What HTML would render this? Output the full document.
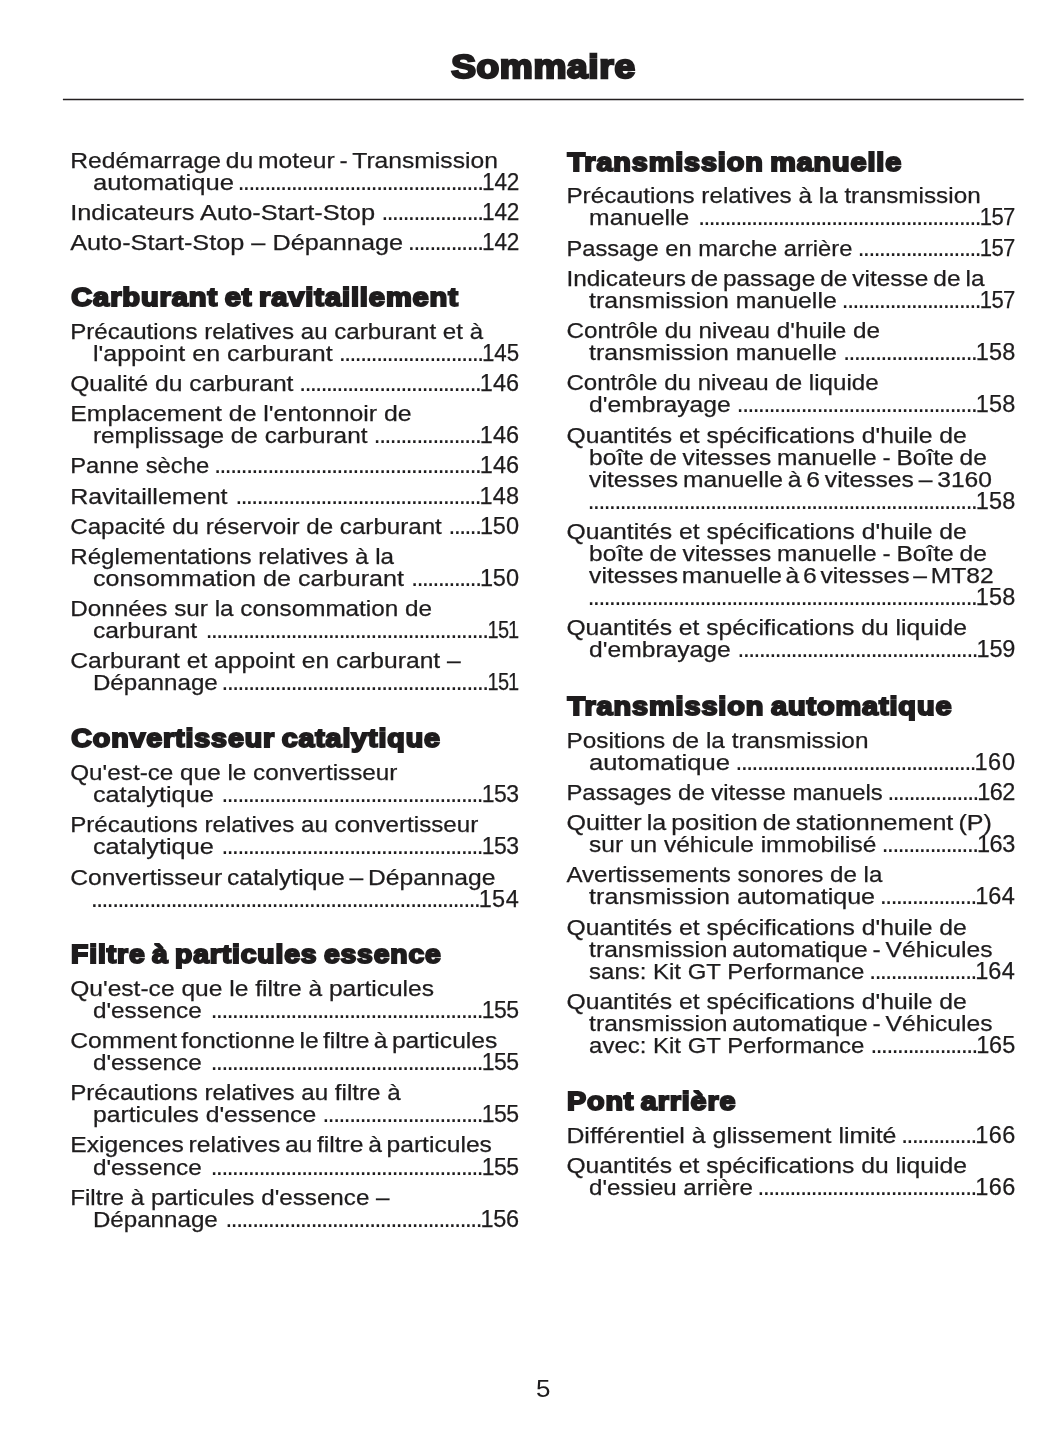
<!DOCTYPE html>
<html lang="fr">
<head>
<meta charset="utf-8">
<title>Sommaire</title>
<style>
html,body{margin:0;padding:0;background:#fff}
body{width:1055px;height:1448px;position:relative;overflow:hidden;font-family:"Liberation Sans",sans-serif;color:#1e1c1d}
.l{position:absolute;left:0;top:0;white-space:pre;transform-origin:0 0;line-height:30px;height:30px;margin:0;padding:0;font-weight:400}
.b{font-size:22.0px;word-spacing:0.0px;-webkit-text-stroke:0.25px #1e1c1d}
.n{font-size:23.5px;-webkit-text-stroke:0.25px #1e1c1d}
.d{font-size:26.0px;letter-spacing:-1.902px}
.h{font-size:25.5px;font-weight:700;word-spacing:-2.0px;letter-spacing:0.8px;-webkit-text-stroke:2.0px #1e1c1d}
.t{font-size:33.3px;font-weight:700;letter-spacing:0.6px;-webkit-text-stroke:2.4px #1e1c1d}
.p{font-size:24.0px}
.rule{position:absolute;left:0;top:0}
</style>
</head>
<body>
<svg class="rule" width="1055" height="120" viewBox="0 0 1055 120"><line x1="62.9" y1="99.45" x2="1023.7" y2="99.45" stroke="#231f20" stroke-width="1.35"/></svg>
<h1 class="l t" style="transform:translate(451.17px,52px) scaleX(1.1129)">Sommaire</h1>
<div class="l b" style="transform:translate(70.20px,146px) scaleX(1.1200);word-spacing:-1.75px">Redémarrage du moteur - Transmission</div>
<div class="l b" style="transform:translate(92.90px,168px) scaleX(1.1643)">automatique</div>
<span class="l d" style="transform:translate(237.54px,166px)">..............................................</span><span class="l n" style="transform:translate(482.08px,167px) scaleX(0.9613)"><span style="letter-spacing:-0.19px">1</span><span style="letter-spacing:-0.37px">4</span>2</span>
<div class="l b" style="transform:translate(70.20px,198px) scaleX(1.1540)">Indicateurs Auto-Start-Stop</div>
<span class="l d" style="transform:translate(381.23px,196px)">...................</span><span class="l n" style="transform:translate(482.08px,197px) scaleX(0.9613)"><span style="letter-spacing:-0.19px">1</span><span style="letter-spacing:-0.37px">4</span>2</span>
<div class="l b" style="transform:translate(70.20px,228px) scaleX(1.1484)">Auto-Start-Stop – Dépannage</div>
<span class="l d" style="transform:translate(407.84px,226px)">..............</span><span class="l n" style="transform:translate(482.08px,227px) scaleX(0.9613)"><span style="letter-spacing:-0.19px">1</span><span style="letter-spacing:-0.37px">4</span>2</span>
<h2 class="l h" style="transform:translate(71.25px,282px) scaleX(1.1376)">Carburant et ravitaillement</h2>
<div class="l b" style="transform:translate(70.20px,317px) scaleX(1.0961)">Précautions relatives au carburant et à</div>
<div class="l b" style="transform:translate(92.90px,339px) scaleX(1.1367)">l&#x27;appoint en carburant</div>
<span class="l d" style="transform:translate(338.66px,337px)">...........................</span><span class="l n" style="transform:translate(482.10px,338px) scaleX(0.9497)"><span style="letter-spacing:-0.19px">1</span><span style="letter-spacing:-0.13px">4</span>5</span>
<div class="l b" style="transform:translate(70.20px,369px) scaleX(1.1199)">Qualité du carburant</div>
<span class="l d" style="transform:translate(299.10px,367px)">..................................</span><span class="l n" style="transform:translate(479.71px,368px) scaleX(1.0000)"><span style="letter-spacing:0.20px">1</span><span style="letter-spacing:0.01px">4</span>6</span>
<div class="l b" style="transform:translate(70.20px,399px) scaleX(1.1281)">Emplacement de l&#x27;entonnoir de</div>
<div class="l b" style="transform:translate(92.90px,421px) scaleX(1.1059)">remplissage de carburant</div>
<span class="l d" style="transform:translate(373.61px,419px)">....................</span><span class="l n" style="transform:translate(479.71px,420px) scaleX(1.0000)"><span style="letter-spacing:0.20px">1</span><span style="letter-spacing:0.01px">4</span>6</span>
<div class="l b" style="transform:translate(70.20px,451px) scaleX(1.0824)">Panne sèche</div>
<span class="l d" style="transform:translate(213.95px,449px)">..................................................</span><span class="l n" style="transform:translate(479.71px,450px) scaleX(1.0000)"><span style="letter-spacing:0.20px">1</span><span style="letter-spacing:0.01px">4</span>6</span>
<div class="l b" style="transform:translate(70.20px,482px) scaleX(1.1387)">Ravitaillement</div>
<span class="l d" style="transform:translate(235.14px,480px)">..............................................</span><span class="l n" style="transform:translate(479.61px,481px) scaleX(1.0000)"><span style="letter-spacing:0.16px">1</span><span style="letter-spacing:0.14px">4</span>8</span>
<div class="l b" style="transform:translate(70.20px,512px) scaleX(1.0971)">Capacité du réservoir de carburant</div>
<span class="l d" style="transform:translate(448.32px,510px)">......</span><span class="l n" style="transform:translate(479.91px,511px) scaleX(1.0000)"><span style="letter-spacing:-0.14px">1</span><span style="letter-spacing:0.04px">5</span>0</span>
<div class="l b" style="transform:translate(70.20px,542px) scaleX(1.0985)">Réglementations relatives à la</div>
<div class="l b" style="transform:translate(92.90px,564px) scaleX(1.1406)">consommation de carburant</div>
<span class="l d" style="transform:translate(411.06px,562px)">.............</span><span class="l n" style="transform:translate(479.91px,563px) scaleX(1.0000)"><span style="letter-spacing:-0.14px">1</span><span style="letter-spacing:0.04px">5</span>0</span>
<div class="l b" style="transform:translate(70.20px,594px) scaleX(1.1041)">Données sur la consommation de</div>
<div class="l b" style="transform:translate(92.90px,616px) scaleX(1.1225)">carburant</div>
<span class="l d" style="transform:translate(205.38px,614px)">.....................................................</span><span class="l n" style="transform:translate(487.38px,615px) scaleX(0.8487)"><span style="letter-spacing:-0.59px">1</span><span style="letter-spacing:-1.28px">5</span>1</span>
<div class="l b" style="transform:translate(70.20px,646px) scaleX(1.1205)">Carburant et appoint en carburant –</div>
<div class="l b" style="transform:translate(92.90px,668px) scaleX(1.0972)">Dépannage</div>
<span class="l d" style="transform:translate(221.35px,666px)">..................................................</span><span class="l n" style="transform:translate(487.38px,667px) scaleX(0.8487)"><span style="letter-spacing:-0.59px">1</span><span style="letter-spacing:-1.28px">5</span>1</span>
<h2 class="l h" style="transform:translate(71.25px,723px) scaleX(1.1205)">Convertisseur catalytique</h2>
<div class="l b" style="transform:translate(70.20px,758px) scaleX(1.1039)">Qu&#x27;est-ce que le convertisseur</div>
<div class="l b" style="transform:translate(92.90px,780px) scaleX(1.1492)">catalytique</div>
<span class="l d" style="transform:translate(221.17px,778px)">.................................................</span><span class="l n" style="transform:translate(481.65px,779px) scaleX(0.9798)"><span style="letter-spacing:-0.59px">1</span><span style="letter-spacing:-0.38px">5</span>3</span>
<div class="l b" style="transform:translate(70.20px,810px) scaleX(1.0975)">Précautions relatives au convertisseur</div>
<div class="l b" style="transform:translate(92.90px,832px) scaleX(1.1492)">catalytique</div>
<span class="l d" style="transform:translate(221.17px,830px)">.................................................</span><span class="l n" style="transform:translate(481.65px,831px) scaleX(0.9798)"><span style="letter-spacing:-0.59px">1</span><span style="letter-spacing:-0.38px">5</span>3</span>
<div class="l b" style="transform:translate(70.20px,863px) scaleX(1.1200);word-spacing:-1.88px">Convertisseur catalytique – Dépannage</div>
<span class="l d" style="transform:translate(90.64px,883px)">.........................................................................</span><span class="l n" style="transform:translate(478.81px,884px) scaleX(1.0000)"><span style="letter-spacing:0.10px">1</span><span style="letter-spacing:0.67px">5</span>4</span>
<h2 class="l h" style="transform:translate(71.12px,939px) scaleX(1.1076)">Filtre à particules essence</h2>
<div class="l b" style="transform:translate(70.20px,974px) scaleX(1.1167)">Qu&#x27;est-ce que le filtre à particules</div>
<div class="l b" style="transform:translate(92.90px,996px) scaleX(1.1062)">d&#x27;essence</div>
<span class="l d" style="transform:translate(210.53px,994px)">...................................................</span><span class="l n" style="transform:translate(481.65px,995px) scaleX(0.9798)"><span style="letter-spacing:-0.59px">1</span><span style="letter-spacing:-0.43px">5</span>5</span>
<div class="l b" style="transform:translate(70.20px,1026px) scaleX(1.1200);word-spacing:-2.23px">Comment fonctionne le filtre à particules</div>
<div class="l b" style="transform:translate(92.90px,1048px) scaleX(1.1062)">d&#x27;essence</div>
<span class="l d" style="transform:translate(210.53px,1046px)">...................................................</span><span class="l n" style="transform:translate(481.65px,1047px) scaleX(0.9798)"><span style="letter-spacing:-0.59px">1</span><span style="letter-spacing:-0.43px">5</span>5</span>
<div class="l b" style="transform:translate(70.20px,1078px) scaleX(1.0985)">Précautions relatives au filtre à</div>
<div class="l b" style="transform:translate(92.90px,1100px) scaleX(1.1243)">particules d&#x27;essence</div>
<span class="l d" style="transform:translate(322.29px,1098px)">..............................</span><span class="l n" style="transform:translate(481.65px,1099px) scaleX(0.9798)"><span style="letter-spacing:-0.59px">1</span><span style="letter-spacing:-0.43px">5</span>5</span>
<div class="l b" style="transform:translate(70.20px,1130px) scaleX(1.1200);word-spacing:-1.97px">Exigences relatives au filtre à particules</div>
<div class="l b" style="transform:translate(92.90px,1153px) scaleX(1.1062)">d&#x27;essence</div>
<span class="l d" style="transform:translate(210.53px,1151px)">...................................................</span><span class="l n" style="transform:translate(481.65px,1152px) scaleX(0.9798)"><span style="letter-spacing:-0.59px">1</span><span style="letter-spacing:-0.43px">5</span>5</span>
<div class="l b" style="transform:translate(70.20px,1183px) scaleX(1.1000)">Filtre à particules d&#x27;essence –</div>
<div class="l b" style="transform:translate(92.90px,1205px) scaleX(1.0972)">Dépannage</div>
<span class="l d" style="transform:translate(225.29px,1203px)">................................................</span><span class="l n" style="transform:translate(480.41px,1204px) scaleX(1.0000)"><span style="letter-spacing:-0.20px">1</span><span style="letter-spacing:-0.29px">5</span>6</span>
<h2 class="l h" style="transform:translate(567.50px,147px) scaleX(1.1271)">Transmission manuelle</h2>
<div class="l b" style="transform:translate(566.40px,181px) scaleX(1.1035)">Précautions relatives à la transmission</div>
<div class="l b" style="transform:translate(589.10px,203px) scaleX(1.1218)">manuelle</div>
<span class="l d" style="transform:translate(697.88px,201px)">.....................................................</span><span class="l n" style="transform:translate(979.72px,202px) scaleX(0.9383)"><span style="letter-spacing:-0.59px">1</span><span style="letter-spacing:-0.69px">5</span>7</span>
<div class="l b" style="transform:translate(566.40px,234px) scaleX(1.0775)">Passage en marche arrière</div>
<span class="l d" style="transform:translate(857.54px,232px)">.......................</span><span class="l n" style="transform:translate(979.72px,233px) scaleX(0.9383)"><span style="letter-spacing:-0.59px">1</span><span style="letter-spacing:-0.69px">5</span>7</span>
<div class="l b" style="transform:translate(566.40px,264px) scaleX(1.1100);word-spacing:-1.64px">Indicateurs de passage de vitesse de la</div>
<div class="l b" style="transform:translate(589.10px,286px) scaleX(1.1315)">transmission manuelle</div>
<span class="l d" style="transform:translate(841.58px,284px)">..........................</span><span class="l n" style="transform:translate(979.72px,285px) scaleX(0.9383)"><span style="letter-spacing:-0.59px">1</span><span style="letter-spacing:-0.69px">5</span>7</span>
<div class="l b" style="transform:translate(566.40px,316px) scaleX(1.1029)">Contrôle du niveau d&#x27;huile de</div>
<div class="l b" style="transform:translate(589.10px,338px) scaleX(1.1315)">transmission manuelle</div>
<span class="l d" style="transform:translate(843.00px,336px)">.........................</span><span class="l n" style="transform:translate(975.71px,337px) scaleX(1.0000)"><span style="letter-spacing:0.11px">1</span><span style="letter-spacing:0.19px">5</span>8</span>
<div class="l b" style="transform:translate(566.40px,368px) scaleX(1.0953)">Contrôle du niveau de liquide</div>
<div class="l b" style="transform:translate(589.10px,390px) scaleX(1.1190)">d&#x27;embrayage</div>
<span class="l d" style="transform:translate(736.56px,388px)">.............................................</span><span class="l n" style="transform:translate(975.71px,389px) scaleX(1.0000)"><span style="letter-spacing:0.11px">1</span><span style="letter-spacing:0.19px">5</span>8</span>
<div class="l b" style="transform:translate(566.40px,421px) scaleX(1.1236)">Quantités et spécifications d&#x27;huile de</div>
<div class="l b" style="transform:translate(589.10px,443px) scaleX(1.1150);word-spacing:-0.88px">boîte de vitesses manuelle - Boîte de</div>
<div class="l b" style="transform:translate(589.10px,465px) scaleX(1.1200);word-spacing:-1.80px">vitesses manuelle à 6 vitesses – 3160</div>
<span class="l d" style="transform:translate(587.54px,485px)">.........................................................................</span><span class="l n" style="transform:translate(975.71px,486px) scaleX(1.0000)"><span style="letter-spacing:0.11px">1</span><span style="letter-spacing:0.19px">5</span>8</span>
<div class="l b" style="transform:translate(566.40px,517px) scaleX(1.1236)">Quantités et spécifications d&#x27;huile de</div>
<div class="l b" style="transform:translate(589.10px,539px) scaleX(1.1150);word-spacing:-0.88px">boîte de vitesses manuelle - Boîte de</div>
<div class="l b" style="transform:translate(589.10px,561px) scaleX(1.1200);word-spacing:-2.77px">vitesses manuelle à 6 vitesses – MT82</div>
<span class="l d" style="transform:translate(587.54px,581px)">.........................................................................</span><span class="l n" style="transform:translate(975.71px,582px) scaleX(1.0000)"><span style="letter-spacing:0.11px">1</span><span style="letter-spacing:0.19px">5</span>8</span>
<div class="l b" style="transform:translate(566.40px,613px) scaleX(1.1214)">Quantités et spécifications du liquide</div>
<div class="l b" style="transform:translate(589.10px,635px) scaleX(1.1190)">d&#x27;embrayage</div>
<span class="l d" style="transform:translate(737.36px,633px)">.............................................</span><span class="l n" style="transform:translate(976.51px,634px) scaleX(1.0000)"><span style="letter-spacing:-0.20px">1</span><span style="letter-spacing:-0.20px">5</span>9</span>
<h2 class="l h" style="transform:translate(567.51px,691px) scaleX(1.1310)">Transmission automatique</h2>
<div class="l b" style="transform:translate(566.40px,726px) scaleX(1.1077)">Positions de la transmission</div>
<div class="l b" style="transform:translate(589.10px,748px) scaleX(1.1627)">automatique</div>
<span class="l d" style="transform:translate(735.36px,746px)">.............................................</span><span class="l n" style="transform:translate(974.51px,747px) scaleX(1.0000)"><span style="letter-spacing:0.50px">1</span><span style="letter-spacing:0.89px">6</span>0</span>
<div class="l b" style="transform:translate(566.40px,778px) scaleX(1.0871)">Passages de vitesse manuels</div>
<span class="l d" style="transform:translate(887.18px,776px)">.................</span><span class="l n" style="transform:translate(977.31px,777px) scaleX(1.0000)"><span style="letter-spacing:-0.63px">1</span><span style="letter-spacing:-0.51px">6</span>2</span>
<div class="l b" style="transform:translate(566.40px,808px) scaleX(1.1400);word-spacing:-1.67px">Quitter la position de stationnement (P)</div>
<div class="l b" style="transform:translate(589.10px,830px) scaleX(1.1134)">sur un véhicule immobilisé</div>
<span class="l d" style="transform:translate(881.55px,828px)">..................</span><span class="l n" style="transform:translate(977.01px,829px) scaleX(1.0000)"><span style="letter-spacing:-0.70px">1</span><span style="letter-spacing:-0.29px">6</span>3</span>
<div class="l b" style="transform:translate(566.40px,860px) scaleX(1.0964)">Avertissements sonores de la</div>
<div class="l b" style="transform:translate(589.10px,882px) scaleX(1.1408)">transmission automatique</div>
<span class="l d" style="transform:translate(879.75px,880px)">..................</span><span class="l n" style="transform:translate(975.21px,881px) scaleX(1.0000)"><span style="letter-spacing:-0.15px">1</span><span style="letter-spacing:0.62px">6</span>4</span>
<div class="l b" style="transform:translate(566.40px,913px) scaleX(1.1236)">Quantités et spécifications d&#x27;huile de</div>
<div class="l b" style="transform:translate(589.10px,935px) scaleX(1.1200);word-spacing:-1.83px">transmission automatique - Véhicules</div>
<div class="l b" style="transform:translate(589.10px,957px) scaleX(1.0891)">sans: Kit GT Performance</div>
<span class="l d" style="transform:translate(869.11px,955px)">....................</span><span class="l n" style="transform:translate(975.21px,956px) scaleX(1.0000)"><span style="letter-spacing:-0.15px">1</span><span style="letter-spacing:0.62px">6</span>4</span>
<div class="l b" style="transform:translate(566.40px,987px) scaleX(1.1236)">Quantités et spécifications d&#x27;huile de</div>
<div class="l b" style="transform:translate(589.10px,1009px) scaleX(1.1200);word-spacing:-1.83px">transmission automatique - Véhicules</div>
<div class="l b" style="transform:translate(589.10px,1031px) scaleX(1.0891)">avec: Kit GT Performance</div>
<span class="l d" style="transform:translate(870.21px,1029px)">....................</span><span class="l n" style="transform:translate(976.31px,1030px) scaleX(1.0000)"><span style="letter-spacing:-0.35px">1</span><span style="letter-spacing:0.02px">6</span>5</span>
<h2 class="l h" style="transform:translate(567.11px,1086px) scaleX(1.1220)">Pont arrière</h2>
<div class="l b" style="transform:translate(566.40px,1121px) scaleX(1.1310)">Différentiel à glissement limité</div>
<span class="l d" style="transform:translate(901.04px,1119px)">..............</span><span class="l n" style="transform:translate(975.21px,1120px) scaleX(1.0000)"><span style="letter-spacing:0.35px">1</span><span style="letter-spacing:0.46px">6</span>6</span>
<div class="l b" style="transform:translate(566.40px,1151px) scaleX(1.1214)">Quantités et spécifications du liquide</div>
<div class="l b" style="transform:translate(589.10px,1173px) scaleX(1.0943)">d&#x27;essieu arrière</div>
<span class="l d" style="transform:translate(757.35px,1171px)">.........................................</span><span class="l n" style="transform:translate(975.21px,1172px) scaleX(1.0000)"><span style="letter-spacing:0.35px">1</span><span style="letter-spacing:0.46px">6</span>6</span>
<div class="l p" style="transform:translate(535.96px,1374px) scaleX(1.0798)">5</div>
</body>
</html>
